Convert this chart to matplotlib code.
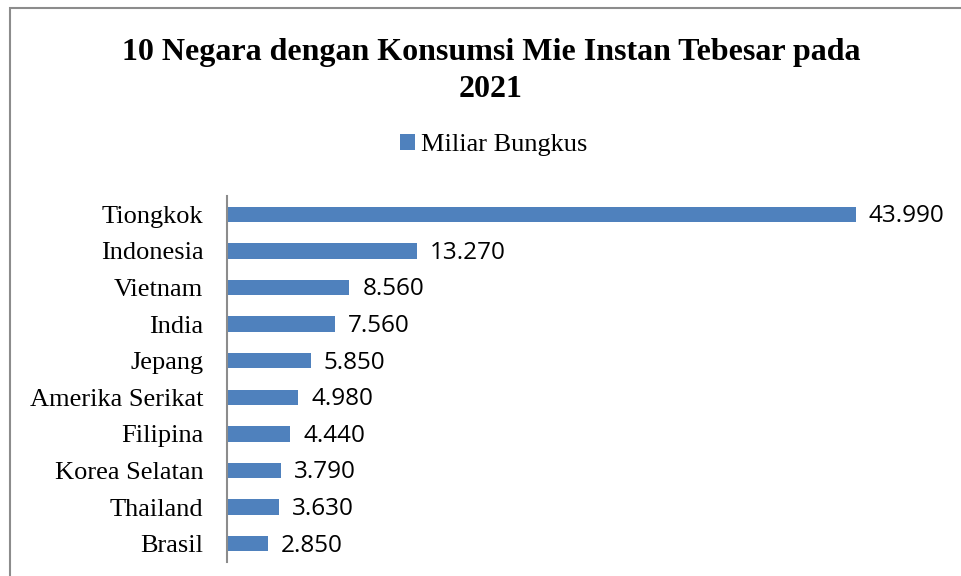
import matplotlib.pyplot as plt
from matplotlib.patches import Rectangle

# data (juta bungkus, displayed with dot as thousands separator)
negara = ["Tiongkok", "Indonesia", "Vietnam", "India", "Jepang",
          "Amerika Serikat", "Filipina", "Korea Selatan", "Thailand", "Brasil"]
konsumsi = [43990, 13270, 8560, 7560, 5850, 4980, 4440, 3790, 3630, 2850]
series_name = "Miliar Bungkus"
judul = "10 Negara dengan Konsumsi Mie Instan Tebesar pada\n2021"

W, H = 961, 576
fig = plt.figure(figsize=(W / 100, H / 100), dpi=100)
fig.patch.set_facecolor("white")

# chart frame (cut off at right / bottom in the original)
fig.patches.append(Rectangle((10 / W, -0.05), 1.1, 1.05 - 8 / H,
                             transform=fig.transFigure, fill=False,
                             edgecolor="#8c8c8c", linewidth=1.5))

ax = fig.add_axes([227 / W, 14 / H, 715 / W, 366 / H])
pos = list(range(len(negara)))
bars = ax.barh(pos, konsumsi, height=0.42, color="#4f81bd", label=series_name)
ax.set_ylim(len(negara) - 0.5, -0.5)
ax.set_xlim(0, 50000)

for rect, v in zip(bars, konsumsi):
    ax.text(rect.get_width() + 900, rect.get_y() + rect.get_height() / 2 + 0.05,
            f"{v:,}".replace(",", "."), va="center", ha="left",
            fontsize=17.5, family=["Open Sans", "DejaVu Sans"], color="black")

ax.set_yticks(pos)
ax.set_yticklabels(negara, family="Liberation Serif", fontsize=19)
ax.tick_params(axis="y", length=0, pad=17)
ax.set_xticks([])
for s in ["top", "right", "bottom"]:
    ax.spines[s].set_visible(False)
ax.spines["left"].set_color("#8c8c8c")
ax.spines["left"].set_linewidth(1.5)

fig.text(491 / W, 1 - 71 / H, judul, ha="center", va="center",
         family="Liberation Serif", fontweight="bold", fontsize=23,
         linespacing=1.38)

ax.legend(loc="center", bbox_to_anchor=(494 / W, 1 - 145 / H),
          bbox_transform=fig.transFigure, frameon=False,
          handlelength=0.55, handleheight=0.55, handletextpad=0.25,
          prop={"family": "Liberation Serif", "size": 19})

fig.savefig("out.png", dpi=100)
